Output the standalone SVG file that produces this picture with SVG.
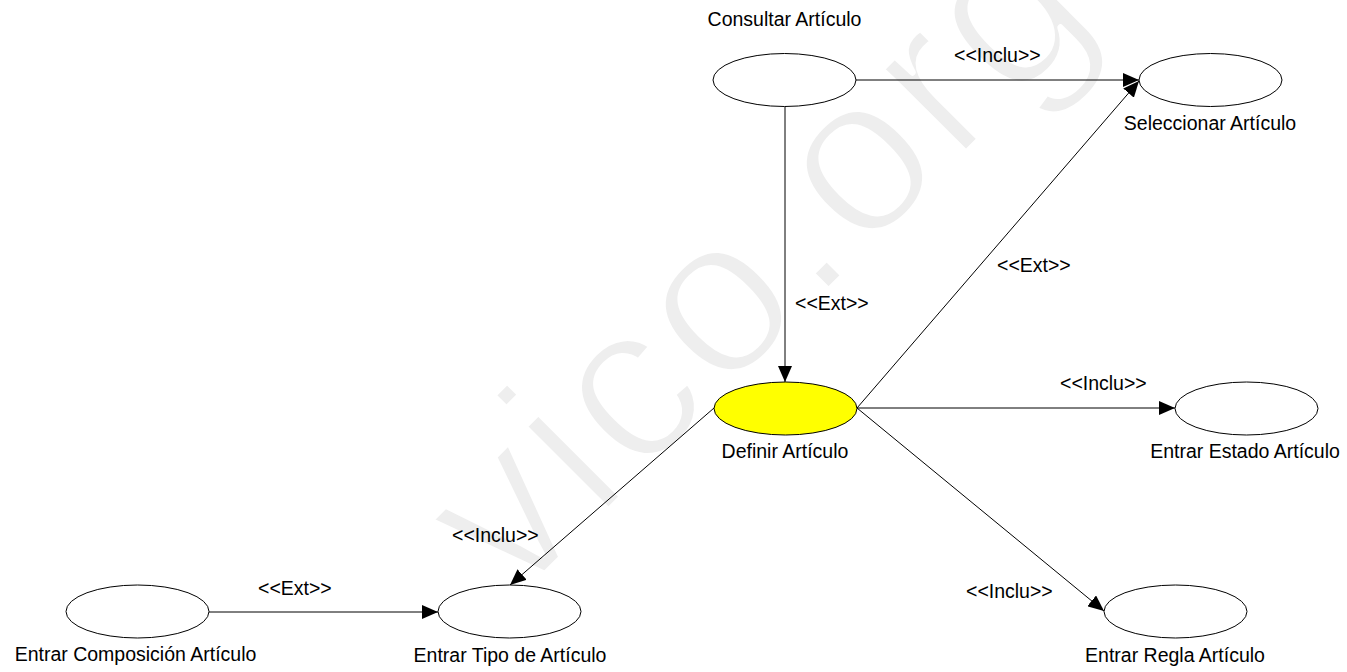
<svg xmlns="http://www.w3.org/2000/svg" width="1347" height="672" viewBox="0 0 1347 672">
<style>
.uc{fill:#ffffff;stroke:#000000;stroke-width:1}
.hl{fill:#ffff00}
.lbl{font-family:"Liberation Sans",Arial,sans-serif;font-size:19.5px;fill:#000000}
.mid{text-anchor:middle}
.conn line{stroke:#000000;stroke-width:1;fill:none}
.wm{font-family:"Liberation Sans",Arial,sans-serif;font-size:225px;letter-spacing:6px;fill:#eeeeee;stroke:#ffffff;stroke-width:6;stroke-linejoin:round}
</style>
<defs>
<marker id="ah" markerUnits="userSpaceOnUse" viewBox="0 0 16 14" markerWidth="16" markerHeight="14" refX="16" refY="7" orient="auto">
<path d="M0,0 L16,7 L0,14 z" fill="#000000"/>
</marker>
</defs>
<rect width="1347" height="672" fill="#ffffff"/>
<text class="wm" x="514" y="605" transform="rotate(-45 514 605)">vico.org</text>
<g id="connectors" class="conn">
<line x1="856" y1="80" x2="1139" y2="80" marker-end="url(#ah)"/>
<line x1="785" y1="107" x2="785" y2="382" marker-end="url(#ah)"/>
<line x1="857" y1="408" x2="1139" y2="81" marker-end="url(#ah)"/>
<line x1="857" y1="408" x2="1175" y2="408" marker-end="url(#ah)"/>
<line x1="857" y1="408" x2="1104" y2="611" marker-end="url(#ah)"/>
<line x1="714" y1="408" x2="510" y2="585" marker-end="url(#ah)"/>
<line x1="209" y1="612" x2="438" y2="612" marker-end="url(#ah)"/>
<text class="lbl" x="954" y="62">&lt;&lt;Inclu&gt;&gt;</text>
<text class="lbl" x="795" y="310">&lt;&lt;Ext&gt;&gt;</text>
<text class="lbl" x="997" y="272">&lt;&lt;Ext&gt;&gt;</text>
<text class="lbl" x="1060" y="390">&lt;&lt;Inclu&gt;&gt;</text>
<text class="lbl" x="966" y="598">&lt;&lt;Inclu&gt;&gt;</text>
<text class="lbl" x="452" y="542">&lt;&lt;Inclu&gt;&gt;</text>
<text class="lbl" x="258" y="595">&lt;&lt;Ext&gt;&gt;</text>
</g>
<g id="consultar">
<ellipse class="uc" cx="784.5" cy="80" rx="71.5" ry="26.5"/>
<text class="lbl mid" x="784.5" y="26">Consultar Artículo</text>
</g>
<g id="seleccionar">
<ellipse class="uc" cx="1210.5" cy="80" rx="71.5" ry="26.5"/>
<text class="lbl mid" x="1210" y="130">Seleccionar Artículo</text>
</g>
<g id="definir">
<ellipse class="uc hl" cx="785.5" cy="408.5" rx="71.5" ry="26.5"/>
<text class="lbl mid" x="785" y="458">Definir Artículo</text>
</g>
<g id="estado">
<ellipse class="uc" cx="1246.5" cy="408.5" rx="71.5" ry="26.5"/>
<text class="lbl mid" x="1245" y="458">Entrar Estado Artículo</text>
</g>
<g id="regla">
<ellipse class="uc" cx="1175.5" cy="611.5" rx="71.5" ry="26.5"/>
<text class="lbl mid" x="1175" y="662">Entrar Regla Artículo</text>
</g>
<g id="tipo">
<ellipse class="uc" cx="509.5" cy="611.5" rx="71.5" ry="26.5"/>
<text class="lbl mid" x="510" y="662">Entrar Tipo de Artículo</text>
</g>
<g id="composicion">
<ellipse class="uc" cx="137.5" cy="611.5" rx="71.5" ry="26.5"/>
<text class="lbl mid" x="135.5" y="661">Entrar Composición Artículo</text>
</g>
</svg>
